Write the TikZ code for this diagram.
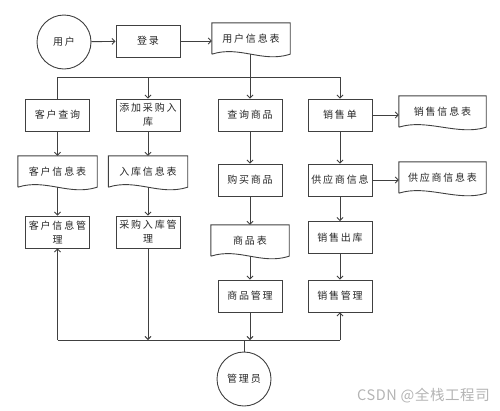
\documentclass[tikz,border=0pt]{standalone}
\usepackage{fontspec}
\newfontfamily\cjk[LetterSpace=18]{Noto Sans CJK SC}
\newfontfamily\wmfont[LetterSpace=4]{Noto Sans CJK SC}
\usetikzlibrary{arrows.meta}
\definecolor{lc}{HTML}{404040}
\definecolor{tc}{HTML}{262626}
\definecolor{wmc}{HTML}{B4B4B4}
\tikzset{
  base/.style={font=\cjk\fontsize{10}{13}\selectfont, text=tc, align=center, inner sep=0pt},
  proc/.style={base, draw=lc, line width=0.9pt, minimum width=64pt, minimum height=32pt},
  ent/.style={base, draw=lc, line width=0.9pt, circle, minimum size=54pt},
  docn/.style={base, minimum height=31pt},
  docline/.style={draw=lc, line width=0.9pt},
  conn/.style={draw=lc, line width=0.9pt},
  arr/.style={conn, -{Straight Barb[length=3pt,width=6pt]}},
}
\newcommand{\docshape}[1]{%
  \draw[docline] (#1.south west) -- (#1.north west) -- (#1.north east) -- (#1.south east)
    .. controls +(-28pt,-9pt) and +(28pt,9pt) .. (#1.south west);}
\begin{document}
\begin{tikzpicture}[x=1pt,y=-1pt]
\useasboundingbox (0,0) rectangle (500,410);
% top row
\node[ent] (user) at (64,42) {用户};
\node[proc] (login) at (148,41) {登录};
\node[docn, minimum width=78pt] (uinfo) at (251,38.5) {用户信息表};
\docshape{uinfo}
% row 1
\node[proc] (kcx) at (57.5,115) {客户查询};
\node[proc] (tjcg) at (148,115) {添加采购入\\[1pt]库};
\node[proc] (cxsp) at (250,115) {查询商品};
\node[proc] (xsd) at (340,115) {销售单};
\node[docn, minimum width=87pt] (xsxx) at (442.5,111.5) {销售信息表};
\docshape{xsxx}
% row 2
\node[docn, minimum width=79pt] (khxx) at (57.5,171.5) {客户信息表};
\docshape{khxx}
\node[docn, minimum width=79pt] (rkxx) at (148,171.5) {入库信息表};
\docshape{rkxx}
\node[proc] (gmsp) at (250,180) {购买商品};
\node[proc] (gysxx) at (340,180) {供应商信息};
\node[docn, minimum width=87pt] (gysb) at (442.5,177.5) {供应商信息表};
\docshape{gysb}
% row 3
\node[proc] (khgl) at (57.5,232) {客户信息管\\[1pt]理};
\node[proc] (cggl) at (148,232) {采购入库管\\[1pt]理};
\node[docn, minimum width=78pt] (spb) at (250,240.5) {商品表};
\docshape{spb}
\node[proc] (xsck) at (340,237.5) {销售出库};
% row 4
\node[proc] (spgl) at (250,296) {商品管理};
\node[proc] (xsgl) at (340,296) {销售管理};
% admin
\node[ent] (admin) at (244,379) {管理员};
% watermark
\node[font=\wmfont\fontsize{14.5}{16}\selectfont, text=wmc, anchor=east, inner sep=0pt] (wm) at (490,396) {CSDN @全栈工程司};
% bus coordinates
\coordinate (TL) at (57.5,77);
\coordinate (TR) at (340,77);
\coordinate (BL) at (57.5,340);
\coordinate (BR) at (340,340);
% top connectors
\draw[arr] (user) -- (login);
\draw[arr] (login) -- (uinfo.west |- login);
\draw[arr] (uinfo.south -| cxsp) -- (cxsp.north);
\draw[conn] (TL) -- (TR);
\draw[conn] (TL) -- (kcx.north);
\draw[arr] (tjcg.north |- TL) -- (tjcg.north);
\draw[arr] (TR) -- (xsd.north);
% column 1
\draw[arr] (kcx) -- (khxx.north);
\draw[arr] (khxx.south) -- (khgl.north);
% column 2
\draw[arr] (tjcg) -- (rkxx.north);
\draw[arr] (rkxx.south) -- (cggl.north);
% column 3
\draw[arr] (cxsp) -- (gmsp);
\draw[arr] (gmsp) -- (spb.north);
\draw[arr] (spb.south) -- (spgl.north);
% column 4
\draw[arr] (xsd) -- (gysxx);
\draw[arr] (gysxx) -- (xsck);
\draw[arr] (xsck) -- (xsgl);
\draw[arr] (xsd.east) -- (xsd.east -| xsxx.west);
\draw[arr] (gysxx.east) -- (gysxx.east -| gysb.west);
% bottom bus
\draw[conn] (BL) -- (BR);
\draw[arr] (BL) -- (khgl.south);
\draw[arr] (cggl.south) -- (cggl.south |- BL);
\draw[arr] (spgl.south) -- (spgl.south |- BL);
\draw[arr] (BR) -- (xsgl.south);
\draw[conn] (admin.north) -- (admin.north |- BL);
\end{tikzpicture}
\end{document}
